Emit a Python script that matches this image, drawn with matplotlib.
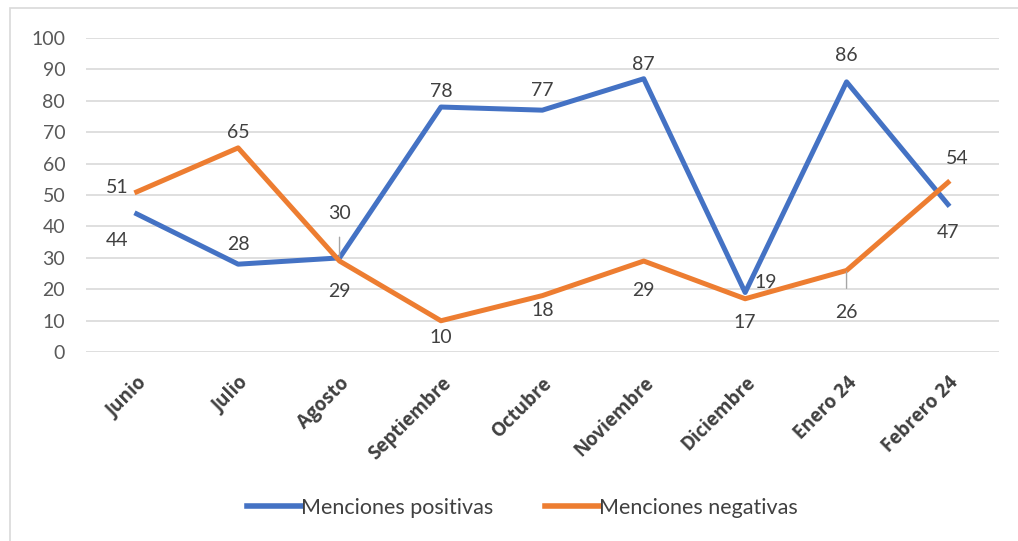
import matplotlib
matplotlib.use("Agg")
import matplotlib.pyplot as plt
from matplotlib.patches import Rectangle

meses = ["Junio", "Julio", "Agosto", "Septiembre", "Octubre", "Noviembre",
         "Diciembre", "Enero 24", "Febrero 24"]
positivas = [44, 28, 30, 78, 77, 87, 19, 86, 47]
negativas = [51, 65, 29, 10, 18, 29, 17, 26, 54]

# label offsets (points) per point
off_pos = [(-14, -19), (0, 14), (0, 32), (0, 11), (0, 14), (0, 10), (15, 7), (0, 19), (0, -20)]
off_neg = [(-14, 3), (0, 11), (0, -22), (0, -12), (0, -11), (0, -21), (0, -17), (0, -30), (7, 17)]
leader_pos = [2]
leader_neg = [7]

blue = "#4472C4"
orange = "#ED7D31"
plt.rcParams["font.family"] = ["Lato", "DejaVu Sans"]

fig = plt.figure(figsize=(10.18, 5.41), dpi=100)
ax = fig.add_axes([0.0845, 0.349, 0.8965, 0.581])
x = list(range(len(meses)))

ax.plot(x, positivas, color=blue, lw=3.6, solid_joinstyle="round", label="Menciones positivas", zorder=3)
ax.plot(x, negativas, color=orange, lw=3.6, solid_joinstyle="round", label="Menciones negativas", zorder=3)


def etiquetas(vals, offs, leaders):
    for i, v in enumerate(vals):
        kw = {}
        if i in leaders:
            kw = dict(arrowprops=dict(arrowstyle="-", color="#A6A6A6", lw=1, shrinkA=9, shrinkB=1))
        ax.annotate(str(v), (i, v), xytext=offs[i], textcoords="offset points",
                    ha="center", va="center", fontsize=14, color="#404040", zorder=4, **kw)


etiquetas(positivas, off_pos, leader_pos)
etiquetas(negativas, off_neg, leader_neg)

ax.set_xlim(-0.5, len(meses) - 0.5)
ax.set_ylim(0, 100)
ax.set_yticks(range(0, 101, 10))
ax.set_xticks(x)
ax.set_xticklabels(meses, rotation=45, ha="right", rotation_mode="anchor",
                   fontsize=13.5, fontweight="bold", color="#404040", family=["Open Sans", "DejaVu Sans"])
ax.tick_params(axis="x", length=0, pad=15)
ax.tick_params(axis="y", length=0, pad=15, labelsize=14, labelcolor="#595959")
ax.grid(axis="y", color="#D9D9D9", lw=1.2)
ax.set_axisbelow(True)
for s in ax.spines.values():
    s.set_visible(False)

leg = fig.legend(loc="center", bbox_to_anchor=(0.513, 0.061), ncol=2, frameon=False,
                 fontsize=15.5, handlelength=2.5, handletextpad=0.0, columnspacing=2.4,
                 labelcolor="#404040")
for h in leg.get_lines():
    h.set_linewidth(4)

fig.patches.append(Rectangle((0.01, -0.01), 1.2, 0.995, transform=fig.transFigure,
                             fill=False, edgecolor="#D9D9D9", lw=1.2))

fig.savefig("out.png", dpi=100)
